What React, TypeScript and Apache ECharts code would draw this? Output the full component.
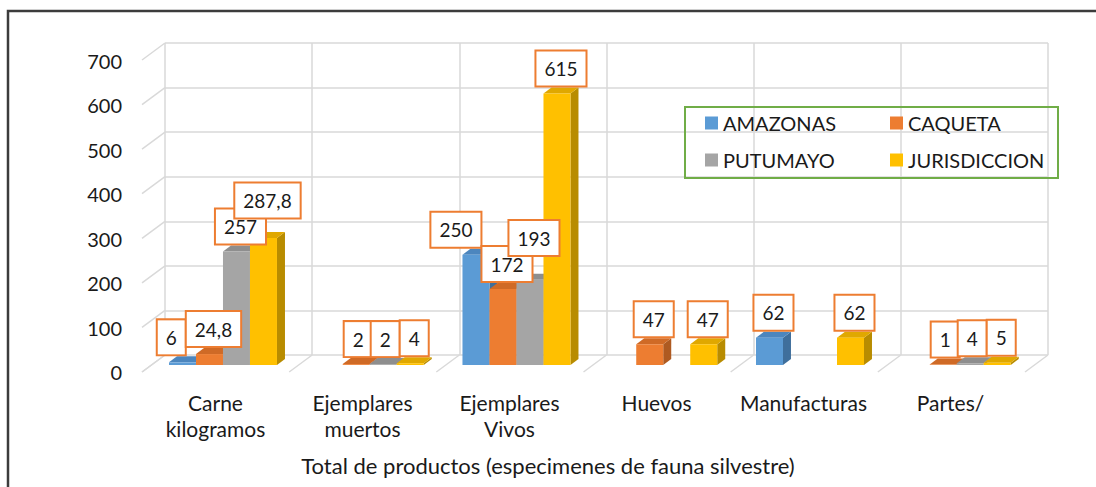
import React, { useEffect, useRef } from "react";
import * as echarts from "echarts";

const categories = ["Carne\nkilogramos", "Ejemplares\nmuertos", "Ejemplares\nVivos", "Huevos", "Manufacturas", "Partes/"];
const seriesNames = ["AMAZONAS", "CAQUETA", "PUTUMAYO", "JURISDICCION"];
const amazonas: (number | null)[] = [6, null, 250, null, 62, null];
const caqueta: (number | null)[] = [24.8, 2, 172, 47, null, 1];
const putumayo: (number | null)[] = [257, 2, 193, null, null, 4];
const jurisdiccion: (number | null)[] = [287.8, 4, 615, 47, 62, 5];
const yTicks = [0, 100, 200, 300, 400, 500, 600, 700];
const axisTitle = "Total de productos (especimenes de fauna silvestre)";

const allValues = [amazonas, caqueta, putumayo, jurisdiccion];

const faces = [
  { front: "#5B9BD5", side: "#3F6F9C", top: "#4C86BE" },
  { front: "#ED7D31", side: "#AE5A21", top: "#CF6A26" },
  { front: "#A5A5A5", side: "#7A7A7A", top: "#8E8E8E" },
  { front: "#FFC000", side: "#B88C00", top: "#E0A800" },
];

const FONT = "Lato, 'Open Sans', sans-serif";
const TEXT_COLOR = "#1a1a1a";
const DX = 8;
const DY = 6;
const BAR_FRAC = 0.184;
const WX = 23;
const WY = 17;
const LBL_SIZE = 19;
const PADH = 8;
const PADV = 5;
const LBL_LH = 24;

let measureCtx: CanvasRenderingContext2D | null = null;
function textWidth(t: string, size: number) {
  if (!measureCtx) measureCtx = document.createElement("canvas").getContext("2d");
  if (!measureCtx) return t.length * size * 0.58;
  measureCtx.font = `${size}px Lato`;
  return measureCtx.measureText(t).width;
}
const fmt = (v: number) => String(v).replace(".", ",");

function barRender(s: number) {
  return (params: any, api: any) => {
    const i = api.value(0);
    const v = api.value(1);
    const band = api.size([1, 0])[0];
    const bw = band * BAR_FRAC;
    const top = api.coord([i, v]);
    const base = api.coord([i, 0]);
    const x0 = top[0] - 2 * bw + s * bw;
    const x1 = x0 + bw;
    const yT = top[1];
    const yB = base[1];
    const f = faces[s];
    return {
      type: "group",
      children: [
        { type: "polygon", shape: { points: [[x1, yT], [x1 + DX, yT - DY], [x1 + DX, yB - DY], [x1, yB]] }, style: { fill: f.side } },
        { type: "polygon", shape: { points: [[x0, yT], [x0 + DX, yT - DY], [x1 + DX, yT - DY], [x1, yT]] }, style: { fill: f.top } },
        { type: "rect", shape: { x: x0, y: yT, width: bw, height: Math.max(yB - yT, 0) }, style: { fill: f.front } },
      ],
    };
  };
}

function labelRender(params: any, api: any) {
  const i = api.value(0);
  const band = api.size([1, 0])[0];
  const bw = band * BAR_FRAC;
  const boxes: any[] = [];
  allValues.forEach((arr, s) => {
    const v = arr[i];
    if (v == null) return;
    const top = api.coord([i, v]);
    const x0 = top[0] - 2 * bw + s * bw;
    const text = fmt(v);
    const w = textWidth(text, LBL_SIZE) + 2 * PADH + 2;
    boxes.push({ text, cx: x0 + bw / 2 + DX / 2, bottom: top[1] - DY - 2, w, h: LBL_LH + 2 * PADV + 2 });
  });
  // simple overlap avoidance between neighbouring labels
  for (let k = 0; k < boxes.length - 1; k++) {
    const a = boxes[k];
    const b = boxes[k + 1];
    const xo = Math.min(a.cx + a.w / 2, b.cx + b.w / 2) - Math.max(a.cx - a.w / 2, b.cx - b.w / 2);
    const yo = Math.min(a.bottom, b.bottom) - Math.max(a.bottom - a.h, b.bottom - b.h);
    if (xo <= 1 || yo <= 0) continue;
    if (a.w < 35) a.cx -= xo;
    else if (b.bottom <= a.bottom) {
      if (yo > 10) b.bottom -= yo - 10;
    } else a.cx -= xo;
  }
  return {
    type: "group",
    children: boxes.map((b) => ({
      type: "text",
      x: b.cx,
      y: b.bottom,
      style: {
        text: b.text,
        fill: TEXT_COLOR,
        font: `${LBL_SIZE}px ${FONT}`,
        align: "center",
        verticalAlign: "bottom",
        lineHeight: LBL_LH,
        backgroundColor: "#ffffff",
        borderColor: "#ED7D31",
        borderWidth: 2,
        padding: [PADV, PADH, PADV, PADH],
      },
    })),
  };
}

function wallRender(params: any, api: any) {
  const v = api.value(1);
  const band = api.size([1, 0])[0];
  const p = api.coord([0, v]);
  const x = p[0] - band / 2;
  return { type: "line", shape: { x1: x, y1: p[1], x2: x - WX, y2: p[1] + WY }, style: { stroke: "#d9d9d9", lineWidth: 1.5 } };
}

function floorRender(params: any, api: any) {
  const b = api.value(2);
  const band = api.size([1, 0])[0];
  const p = api.coord([0, 0]);
  const x = p[0] - band / 2 + b * band;
  return { type: "line", shape: { x1: x, y1: p[1], x2: x - WX, y2: p[1] + WY }, style: { stroke: "#d9d9d9", lineWidth: 1.5 } };
}

export default function App() {
  const ref = useRef<HTMLDivElement>(null);
  useEffect(() => {
    document.body.style.margin = "0";
    if (!ref.current) return;
    const chart = echarts.init(ref.current, null, { renderer: "svg" });
    const boundaries = categories.map((_, i) => i).concat([categories.length]);
    const option: any = {
      animation: false,
      backgroundColor: "#ffffff",
      textStyle: { fontFamily: FONT },
      grid: [
        { left: 149.6, top: 56, width: 880.5, height: 309 },
        { left: 165, top: 43, width: 883, height: 312 },
        { left: 142, top: 61, width: 882, height: 311 },
      ],
      xAxis: [
        { gridIndex: 0, type: "category", data: categories, show: false },
        {
          gridIndex: 1, type: "category", data: categories,
          axisLine: { show: false }, axisTick: { show: false }, axisLabel: { show: false },
          splitLine: { show: true, interval: 0, lineStyle: { color: "#d9d9d9", width: 1.5 } },
        },
        {
          gridIndex: 2, type: "category", data: categories,
          axisLine: { show: false }, axisTick: { show: false }, splitLine: { show: false },
          axisLabel: { interval: 0, margin: 17, color: TEXT_COLOR, fontSize: 21, lineHeight: 26, fontFamily: FONT },
        },
      ],
      yAxis: [
        { gridIndex: 0, type: "value", min: 0, max: 700, interval: 100, show: false },
        {
          gridIndex: 1, type: "value", min: 0, max: 700, interval: 100,
          axisLine: { show: false }, axisTick: { show: false }, axisLabel: { show: false },
          splitLine: { show: true, lineStyle: { color: "#d9d9d9", width: 1.5 } },
        },
        {
          gridIndex: 2, type: "value", min: 0, max: 700, interval: 100,
          axisLine: { show: false }, axisTick: { show: false }, splitLine: { show: false },
          axisLabel: { margin: 20, color: TEXT_COLOR, fontSize: 20, fontFamily: FONT },
        },
      ],
      legend: [
        {
          data: [seriesNames[0], seriesNames[2]], orient: "vertical", left: 705, top: 113, padding: 0,
          itemWidth: 13, itemHeight: 13, itemGap: 17, icon: "rect",
          textStyle: { fontSize: 20, lineHeight: 20, color: TEXT_COLOR, fontFamily: FONT },
          selectedMode: false,
        },
        {
          data: [seriesNames[1], seriesNames[3]], orient: "vertical", left: 890, top: 113, padding: 0,
          itemWidth: 13, itemHeight: 13, itemGap: 17, icon: "rect",
          textStyle: { fontSize: 20, lineHeight: 20, color: TEXT_COLOR, fontFamily: FONT },
          selectedMode: false,
        },
      ],
      graphic: [
        { type: "rect", shape: { x: 8, y: 11, width: 1300, height: 700 }, style: { fill: "none", stroke: "#3c3c3c", lineWidth: 2.5 }, silent: true },
        { type: "rect", shape: { x: 685, y: 107, width: 373, height: 71 }, style: { fill: "none", stroke: "#70AD47", lineWidth: 2 }, silent: true, z: 10 },
        { type: "text", x: 548, y: 465, style: { text: axisTitle, font: `22px ${FONT}`, fill: TEXT_COLOR, align: "center", verticalAlign: "middle" }, silent: true },
      ],
      series: [
        {
          type: "custom", name: "wall", xAxisIndex: 1, yAxisIndex: 1, silent: true, z: 1,
          data: yTicks.map((v) => [0, v]), encode: { x: 0, y: 1 }, renderItem: wallRender,
        },
        {
          type: "custom", name: "floor", xAxisIndex: 1, yAxisIndex: 1, silent: true, z: 1,
          data: boundaries.map((b) => [0, 0, b]), encode: { x: 0, y: 1 }, renderItem: floorRender,
        },
        ...allValues.map((arr, s) => ({
          type: "custom", name: seriesNames[s], xAxisIndex: 0, yAxisIndex: 0, silent: true, z: 2,
          itemStyle: { color: faces[s].front },
          data: arr.flatMap((v, i) => (v == null ? [] : [[i, v]])),
          encode: { x: 0, y: 1 },
          renderItem: barRender(s),
        })),
        {
          type: "custom", name: "labels", xAxisIndex: 0, yAxisIndex: 0, silent: true, z: 5,
          data: categories.map((_, i) => [i, 0]), encode: { x: 0, y: 1 }, renderItem: labelRender,
        },
      ],
    };
    chart.setOption(option);
    return () => chart.dispose();
  }, []);
  return <div ref={ref} style={{ width: 1096, height: 487 }} />;
}
